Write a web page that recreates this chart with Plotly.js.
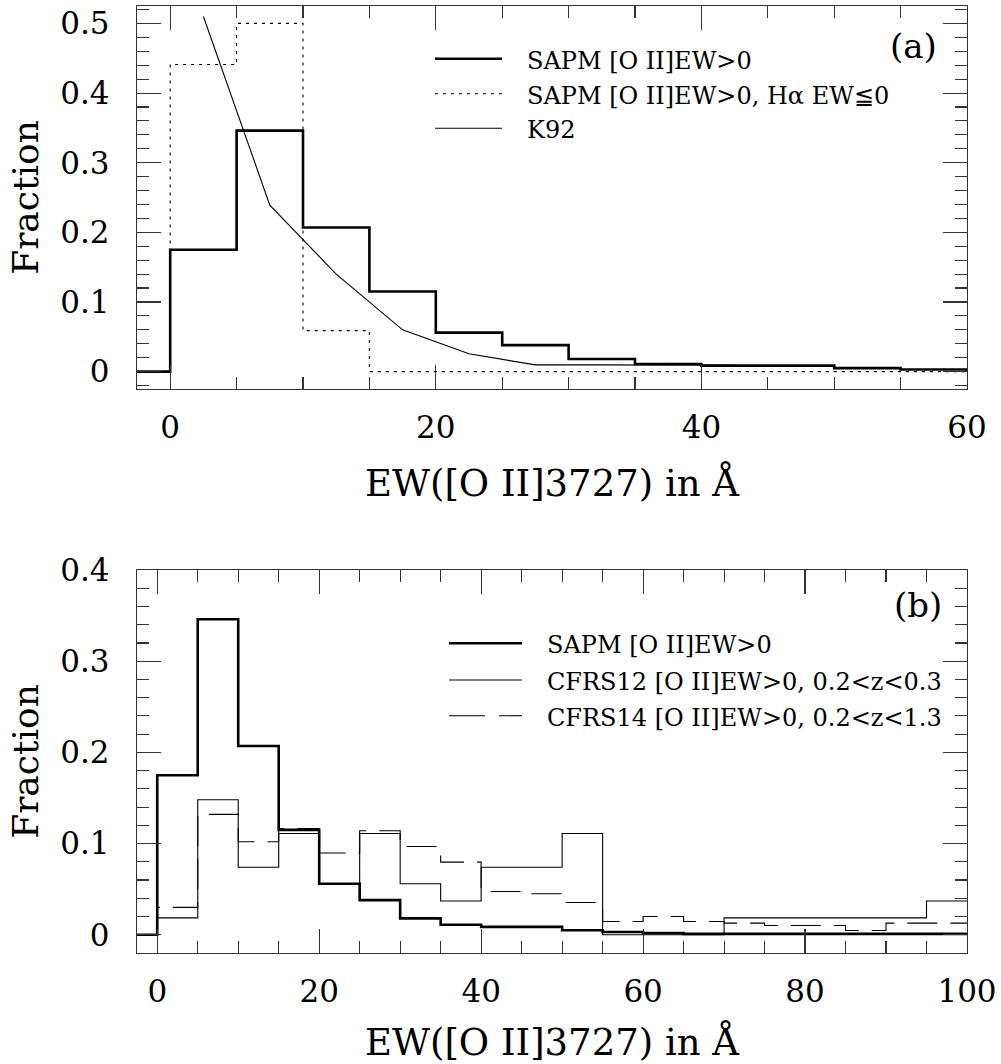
<!DOCTYPE html>
<html><head><meta charset="utf-8">
<script src="https://cdn.plot.ly/plotly-3.0.1.min.js"></script>
<style>html,body{margin:0;padding:0;background:#fff}</style>
</head><body><div id="chart" style="width:1001px;height:1064px"></div>
<script>
// ---- data ----
const binEdges = [0,5,10,15,20,25,30,35,40,45,50,55,60,65,70,75,80,85,90,95,100];
const sapmFrac = [0.175,0.346,0.207,0.115,0.056,0.038,0.018,0.011,0.0086,0.0086,0.005,0.003,0.002,0.001,0.001,0.001,0.001,0.001,0.001,0.001];
const sapmHaFrac = [0.441,0.5,0.0588,0,0,0,0,0,0,0,0,0];
const k92Ew = [2.5,7.5,12.5,17.5,22.5,27.5,32.5,37.5,42.5];
const k92Frac = [0.51,0.239,0.140,0.060,0.0255,0.0096,0.0096,0.0095,0.009];
const cfrs12Frac = [0.0185,0.148,0.074,0.111,0.056,0.111,0.056,0.037,0.074,0.074,0.111,0,0,0,0.0185,0.0185,0.0185,0.0185,0.0185,0.037];
const cfrs14Frac = [0.030,0.132,0.102,0.1166,0.0896,0.114,0.0968,0.0797,0.0475,0.045,0.0354,0.0146,0.020,0.0146,0.0128,0.0102,0.0102,0.0047,0.0128,0.0128];

const legendA = ["SAPM [O II]EW>0", "SAPM [O II]EW>0, H\u03b1 EW\u22660", "K92"];
const legendB = ["SAPM [O II]EW>0", "CFRS12 [O II]EW>0, 0.2<z<0.3", "CFRS14 [O II]EW>0, 0.2<z<1.3"];
const xTitle = "EW([O II]3727) in \u00c5";
const yTitle = "Fraction";

// ---- helpers ----
function stepXY(edges, vals, leadIn) {
  const n = vals.length;
  const x = [], y = [];
  if (leadIn) { x.push(edges[0] - (edges[1] - edges[0])); y.push(0); }
  else { x.push(edges[0]); y.push(0); }
  for (let i = 0; i < n; i++) { x.push(edges[i]); y.push(vals[i]); }
  x.push(edges[n]); y.push(vals[n - 1]);
  return {x, y};
}

const FONT = "DejaVu Serif";
const thick = {color: "#000", width: 2.6, shape: "hv"};
const thin = {color: "#000", width: 1.1, shape: "hv"};

const sA = stepXY(binEdges, sapmFrac, true);
const hA = stepXY(binEdges, sapmHaFrac, false);
const sB = stepXY(binEdges, sapmFrac, true);
const c12 = stepXY(binEdges, cfrs12Frac, false);
const c14 = stepXY(binEdges, cfrs14Frac, false);

const traces = [
  {x: hA.x, y: hA.y, mode: "lines", line: Object.assign({}, thin, {dash: "3px,5px"}), xaxis: "x", yaxis: "y", name: legendA[1]},
  {x: k92Ew, y: k92Frac, mode: "lines", line: {color: "#000", width: 1.1}, xaxis: "x", yaxis: "y", name: legendA[2]},
  {x: sA.x, y: sA.y, mode: "lines", line: thick, xaxis: "x", yaxis: "y", name: legendA[0]},
  {x: c14.x, y: c14.y, mode: "lines", line: Object.assign({}, thin, {dash: "30px,13px"}), xaxis: "x2", yaxis: "y2", name: legendB[2]},
  {x: c12.x, y: c12.y, mode: "lines", line: thin, xaxis: "x2", yaxis: "y2", name: legendB[1]},
  {x: sB.x, y: sB.y, mode: "lines", line: thick, xaxis: "x2", yaxis: "y2", name: legendB[0]}
];

const L = 137, R = 967, T = 6, B = 953;
const W = R - L, H = B - T;
const px = v => (v - L) / W;
const py = v => (B - v) / H;

const axBase = {
  showgrid: false, zeroline: false, showline: true, linecolor: "#333", linewidth: 1.3,
  mirror: "allticks", ticks: "inside", ticklen: 24, tickwidth: 1.1, tickcolor: "#333",
  tickfont: {family: FONT, size: 31, color: "#000"}
};
const minorX = {dtick: 5, ticklen: 12, ticks: "inside", tickcolor: "#333", tickwidth: 1.1};
const minorY = {dtick: 0.02, ticklen: 12, ticks: "inside", tickcolor: "#333", tickwidth: 1.1};
const xTitleObj = {text: xTitle, font: {family: FONT, size: 37, color: "#000"}, standoff: 26};
const yTitleObj = {text: yTitle, font: {family: FONT, size: 36, color: "#000"}, standoff: 10};

const layout = {
  width: 1001, height: 1064, showlegend: false,
  paper_bgcolor: "#fff", plot_bgcolor: "#fff",
  margin: {l: L, r: 1001 - R, t: T, b: 1064 - B},
  xaxis: Object.assign({}, axBase, {domain: [0, 1], anchor: "y", range: [-2.5, 60], dtick: 20, tick0: 0,
    minor: minorX, ticklabelstandoff: 10, title: xTitleObj}),
  yaxis: Object.assign({}, axBase, {domain: [py(389), 1], anchor: "x", range: [-0.025, 0.525], dtick: 0.1, tick0: 0,
    minor: minorY, ticklabelstandoff: 20, title: yTitleObj}),
  xaxis2: Object.assign({}, axBase, {domain: [0, 1], anchor: "y2", range: [-2.5, 100], dtick: 20, tick0: 0,
    minor: minorX, ticklabelstandoff: 10, title: xTitleObj}),
  yaxis2: Object.assign({}, axBase, {domain: [0, py(570)], anchor: "x2", range: [-0.02, 0.4], dtick: 0.1, tick0: 0,
    minor: minorY, ticklabelstandoff: 20, title: yTitleObj}),
  shapes: [], annotations: []
};

// legend keys (paper space)
const keyA = [
  {x0: 435, x1: 502, y: 58.7, line: {color: "#000", width: 2.6}},
  {x0: 435, x1: 502, y: 93.7, line: {color: "#000", width: 1.1, dash: "3px,5px"}},
  {x0: 435, x1: 502, y: 128.3, line: {color: "#000", width: 1.1}}
];
const keyB = [
  {x0: 449, x1: 522, y: 643.3, line: {color: "#000", width: 2.6}},
  {x0: 449, x1: 522, y: 680, line: {color: "#000", width: 1.1}},
  {x0: 449, x1: 522, y: 715.7, line: {color: "#000", width: 1.1, dash: "36px,14px"}}
];
const legFont = {family: FONT, size: 24, color: "#000"};
keyA.forEach((k, i) => {
  layout.shapes.push({type: "line", xref: "paper", yref: "paper", x0: px(k.x0), x1: px(k.x1), y0: py(k.y), y1: py(k.y), line: k.line});
  layout.annotations.push({xref: "paper", yref: "paper", x: px(525), y: py(k.y + 2), xanchor: "left", yanchor: "middle",
    text: legendA[i], showarrow: false, font: legFont});
});
keyB.forEach((k, i) => {
  layout.shapes.push({type: "line", xref: "paper", yref: "paper", x0: px(k.x0), x1: px(k.x1), y0: py(k.y), y1: py(k.y), line: k.line});
  layout.annotations.push({xref: "paper", yref: "paper", x: px(545), y: py(k.y + 2), xanchor: "left", yanchor: "middle",
    text: legendB[i], showarrow: false, font: legFont});
});
layout.annotations.push({xref: "paper", yref: "paper", x: px(913), y: py(46), xanchor: "center", yanchor: "middle",
  text: "(a)", showarrow: false, font: {family: FONT, size: 34, color: "#000"}});
layout.annotations.push({xref: "paper", yref: "paper", x: px(918), y: py(605), xanchor: "center", yanchor: "middle",
  text: "(b)", showarrow: false, font: {family: FONT, size: 34, color: "#000"}});

Plotly.newPlot("chart", traces, layout, {staticPlot: true, displayModeBar: false});
</script>
</body></html>
